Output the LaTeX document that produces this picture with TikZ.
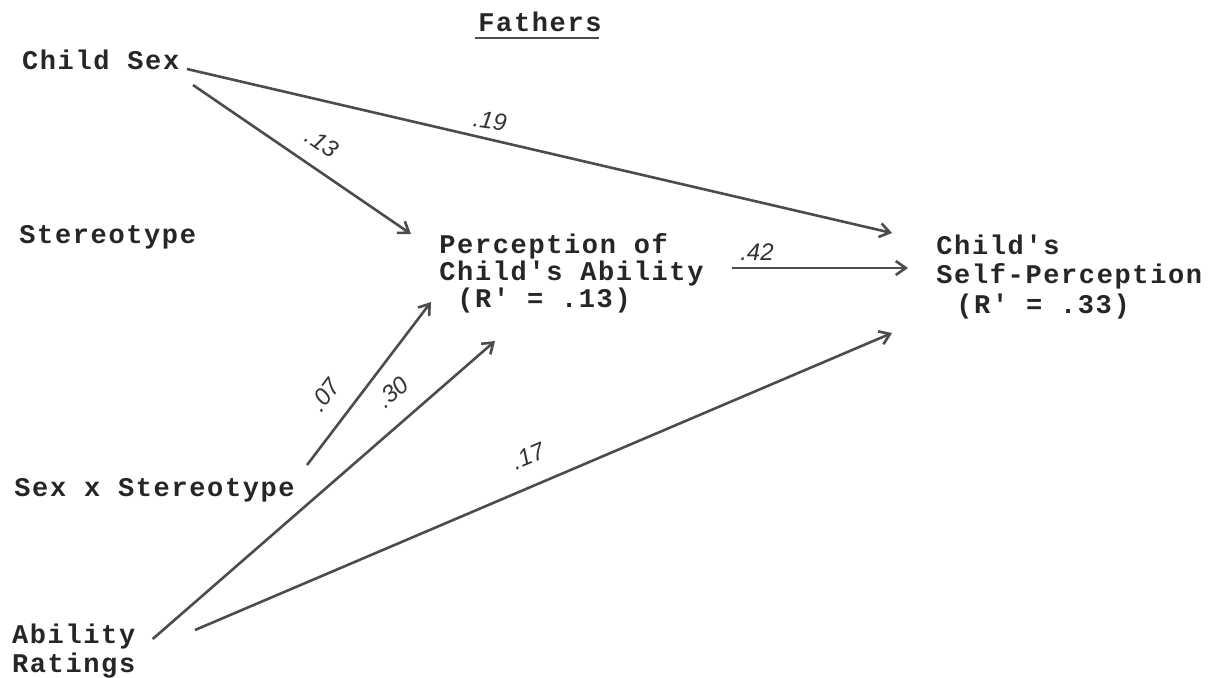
\documentclass[tikz,border=0pt]{standalone}
\usepackage{fontspec}
\usetikzlibrary{arrows.meta,calc}
\newfontfamily\tw[LetterSpace=6,Ligatures=TeXOff]{Liberation Mono}
\newfontfamily\hw{Liberation Sans}
\begin{document}
\begin{tikzpicture}[x=0.5pt,y=-0.5pt,
  lbl/.style={font=\tw\bfseries\fontsize{13.5}{14}\selectfont, anchor=base west, inner sep=0pt, text=black!85},
  wt/.style={font=\hw\itshape\fontsize{12}{12}\selectfont, inner sep=0pt, text=black!80},
  arr/.style={draw=black!70, line width=1.3pt, -{Straight Barb[length=5pt,width=7pt,line width=1.3pt]}}]
\useasboundingbox (0,0) rectangle (1221,677);
% nodes
\node[lbl] (fa) at (478,31.7) {Fathers};
\node[lbl] (cs) at (21.7,69) {Child Sex};
\node[lbl] (st) at (19,243) {Stereotype};
\node[lbl] (sxs) at (14,496) {Sex x Stereotype};
\node[lbl] (ar1) at (11.7,643.3) {Ability};
\node[lbl] (ar2) at (11.7,672) {Ratings};
\node[lbl] (pa1) at (439,253) {Perception of};
\node[lbl] (pa2) at (439,280) {Child's Ability};
\node[lbl] (pa3) at (457,307) {(R' = .13)};
\node[lbl] (sp1) at (936,254) {Child's};
\node[lbl] (sp2) at (936,283.3) {Self-Perception};
\node[lbl] (sp3) at (956,313) {(R' = .33)};
% underline
\draw[line width=1pt, black!70] ($(fa.base west)+(-3,6)$) -- ($(fa.base west)+(121,6)$);
% connectors
\draw[arr] ($(cs.base west)+(165.3,0)$) -- ($(sp1.base west)+(-44,-21)$);
\draw[arr] ($(cs.base west)+(171.3,16)$) -- ($(pa1.base west)+(-28,-19)$);
\draw[arr] ($(pa2.base west)+(293,-12)$) -- ($(sp2.base west)+(-28,-15.3)$);
\draw[arr] ($(sxs.base west)+(293,-31)$) -- ($(pa3.base west)+(-26,-5)$);
\draw[arr] ($(ar1.base west)+(141,-4.3)$) -- ($(pa3.base west)+(38,34)$);
\draw[arr] ($(ar1.base west)+(183.3,-13.3)$) -- ($(sp3.base west)+(-64,20)$);
% path labels
\node[wt, rotate=-34] (l13) at (322,143) {.13};
\node[wt, rotate=-8] (l19) at (490,121) {.19};
\node[wt] (l42) at (757,252) {.42};
\node[wt, rotate=53] (l07) at (325,395) {.07};
\node[wt, rotate=41] (l30) at (393,392) {.30};
\node[wt, rotate=23] (l17) at (528,456) {.17};
\end{tikzpicture}
\end{document}
